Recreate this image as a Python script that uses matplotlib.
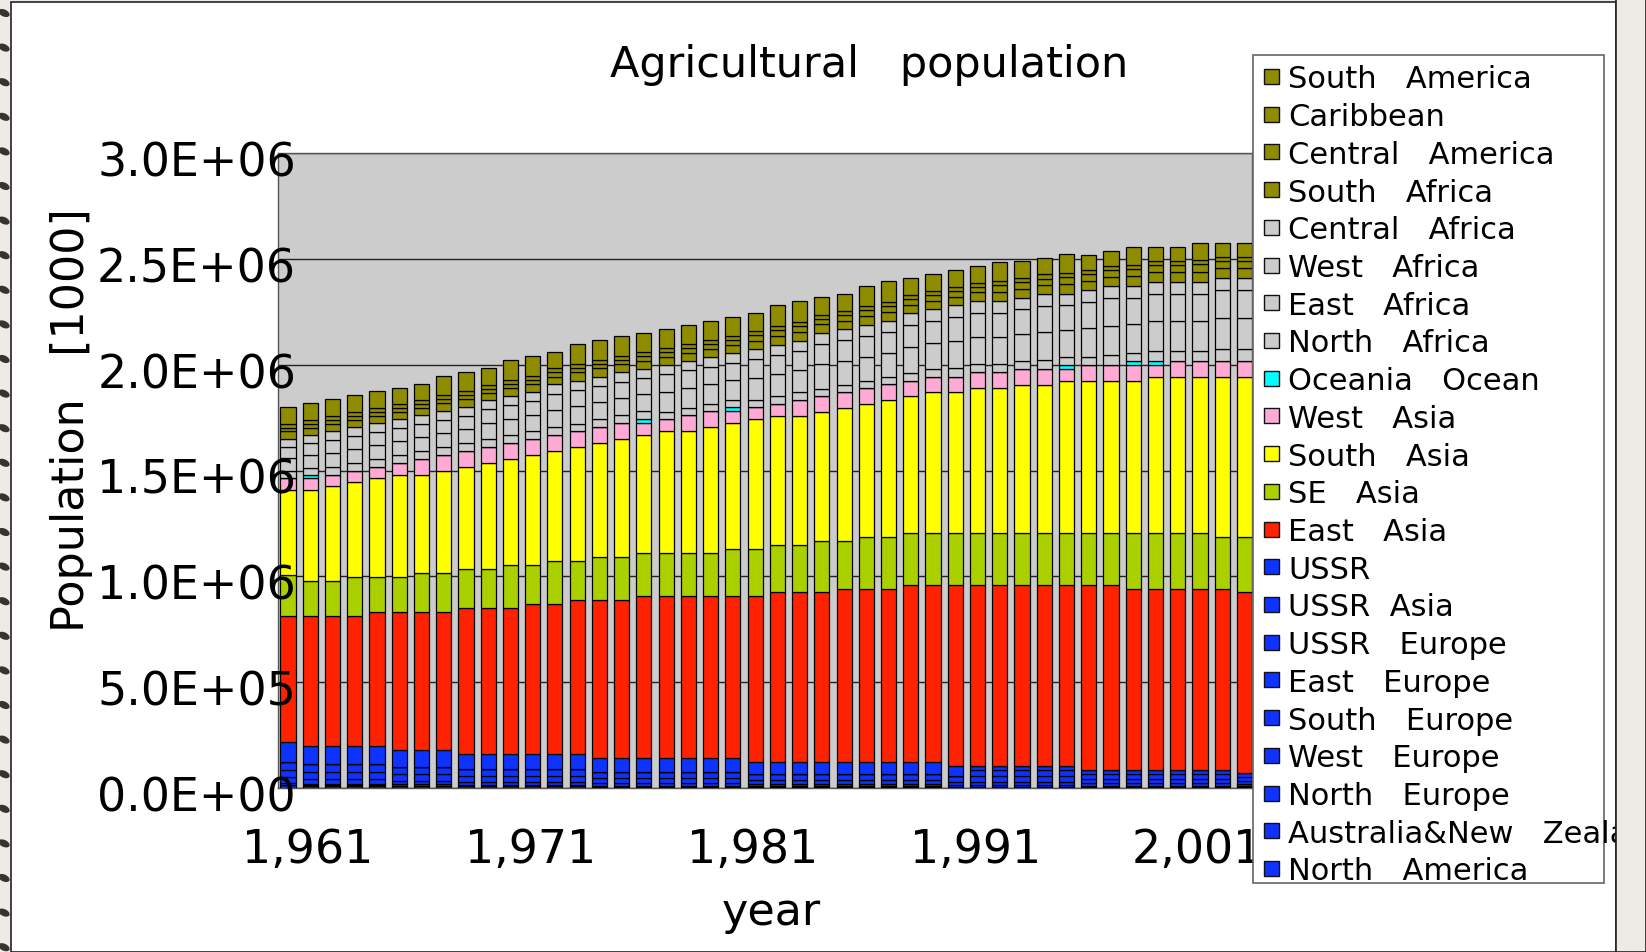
import numpy as np
import matplotlib
matplotlib.use("Agg")
import matplotlib.pyplot as plt
from matplotlib.patches import Rectangle, Ellipse
from matplotlib.transforms import blended_transform_factory, ScaledTranslation, IdentityTransform

# ---------------- data (values in thousands of [1000]) ----------------
years = list(range(1961, 2005))

north_america = [14, 11, 11, 11, 11, 9, 9, 9, 8, 8, 8, 8, 8, 8, 6, 6, 6, 6, 6, 6, 6,
                 4, 4, 4, 4, 4, 4, 4, 4, 4, 3, 3, 3, 3, 3, 3, 2, 2, 2, 2, 2, 2, 2, 1]
aus_nz = [2, 2, 2, 2, 2, 2, 2, 2, 1, 1, 1, 1, 1, 1, 1, 1, 1, 1, 1, 1, 1,
          1, 1, 1, 1, 1, 1, 1, 1, 1, 1, 1, 1, 1, 1, 1, 1, 1, 1, 1, 1, 1, 1, 1]
north_europe = [9, 7, 7, 7, 7, 6, 6, 6, 5, 5, 5, 5, 5, 5, 4, 4, 4, 4, 4, 4, 4,
                3, 3, 3, 3, 3, 3, 3, 3, 3, 2, 2, 2, 2, 2, 2, 1, 1, 1, 1, 1, 1, 1, 1]
west_europe = [25, 21, 21, 21, 21, 18, 18, 18, 15, 15, 15, 15, 15, 15, 12, 12, 12, 12, 12, 12, 12,
               10, 10, 10, 10, 10, 10, 10, 10, 10, 8, 8, 8, 8, 8, 8, 6, 6, 6, 6, 6, 6, 6, 5]
south_europe = [36, 33, 33, 33, 33, 30, 30, 30, 26, 26, 26, 26, 26, 26, 22, 22, 22, 22, 22, 22, 22,
                19, 19, 19, 19, 19, 19, 19, 19, 19, 15, 15, 15, 15, 15, 15, 12, 12, 12, 12, 12, 12, 12, 9]
east_europe = [39, 38, 38, 38, 38, 36, 36, 36, 34, 34, 34, 34, 34, 34, 32, 32, 32, 32, 32, 32, 32,
               30, 30, 30, 30, 30, 30, 30, 30, 30, 27, 27, 27, 27, 27, 27, 22, 22, 22, 22, 22, 22, 22, 17]
ussr_europe = [0, 0, 0, 0, 0, 0, 0, 0, 0, 0, 0, 0, 0, 0, 0, 0, 0, 0, 0, 0, 0,
               0, 0, 0, 0, 0, 0, 0, 0, 0, 0, 29, 29, 29, 29, 29, 24, 24, 24, 24, 24, 24, 24, 19]
ussr_asia = [0, 0, 0, 0, 0, 0, 0, 0, 0, 0, 0, 0, 0, 0, 0, 0, 0, 0, 0, 0, 0,
             0, 0, 0, 0, 0, 0, 0, 0, 0, 0, 21, 21, 21, 21, 21, 19, 19, 19, 19, 19, 19, 19, 16]
ussr = [93, 86, 86, 86, 86, 80, 80, 80, 73, 73, 73, 73, 73, 73, 66, 66, 66, 66, 66, 66, 66,
        58, 58, 58, 58, 58, 58, 58, 58, 58, 50, 0, 0, 0, 0, 0, 0, 0, 0, 0, 0, 0, 0, 0]
east_asia = [594, 614, 614, 614, 632, 649, 649, 649, 687, 687, 687, 706, 706, 724, 743, 743,
             762, 762, 762, 762, 762, 780, 799, 799, 799, 817, 817, 817, 836, 836, 855, 855,
             855, 855, 855, 855, 874, 874, 855, 855, 855, 855, 855, 855]
se_asia = [196, 168, 168, 186, 168, 168, 187, 187, 187, 187, 206, 187, 205, 187, 206, 206,
           206, 206, 206, 206, 224, 224, 224, 224, 243, 225, 243, 243, 243, 243, 243, 243,
           243, 243, 243, 243, 243, 243, 262, 262, 262, 262, 243, 261]
south_asia = [399, 427, 445, 446, 465, 482, 463, 481, 481, 500, 500, 518, 519, 538, 537, 556,
              556, 574, 574, 593, 594, 612, 609, 609, 609, 627, 628, 647, 646, 665, 665, 684,
              684, 701, 701, 720, 720, 720, 720, 739, 739, 739, 758, 758]
west_asia = [57, 58, 55, 54, 54, 56, 75, 75, 75, 75, 74, 75, 75, 74, 75, 75, 56, 56, 75, 75,
             56, 57, 56, 75, 74, 75, 75, 75, 75, 75, 75, 75, 75, 75, 75, 56, 74, 74, 74, 56,
             74, 74, 74, 74]
oceania = [0, 12, 0, 0, 0, 0, 0, 0, 0, 0, 0, 0, 0, 0, 0, 0, 19, 0, 0, 0,
           19, 0, 0, 0, 0, 0, 0, 0, 0, 0, 0, 0, 0, 0, 0, 19, 0, 0, 19, 19,
           0, 0, 0, 0]
north_africa = [36, 36, 37, 37, 37, 37, 37, 37, 37, 37, 37, 37, 37, 37, 37, 37, 37, 37, 37, 37,
                37, 37, 37, 37, 37, 37, 37, 37, 37, 37, 38, 38, 38, 38, 40, 38, 40, 46, 40, 46,
                46, 46, 56, 56]
east_africa = [58, 60, 66, 67, 68, 67, 67, 68, 68, 75, 75, 75, 84, 84, 84, 84, 84, 94, 94, 94,
               94, 103, 104, 104, 114, 113, 113, 113, 121, 121, 128, 128, 128, 128, 135, 128, 135,
               141, 135, 141, 141, 141, 149, 149]
west_africa = [55, 56, 62, 62, 62, 61, 61, 61, 61, 67, 67, 67, 75, 75, 75, 75, 74, 82, 82, 81,
               81, 89, 90, 90, 98, 98, 98, 98, 106, 106, 116, 116, 116, 115, 124, 116, 124, 130,
               124, 130, 130, 130, 130, 130]
central_africa = [38, 38, 40, 40, 40, 40, 40, 40, 40, 42, 42, 42, 44, 44, 44, 44, 44, 46, 46, 46,
                  46, 48, 49, 49, 51, 51, 51, 51, 54, 54, 54, 54, 54, 54, 55, 54, 55, 56, 55, 56,
                  56, 56, 56, 56]
south_africa = [34, 35, 35, 35, 35, 35, 35, 38, 38, 36, 38, 38, 36, 38, 38, 38, 38, 38, 38, 38,
                38, 39, 42, 42, 40, 40, 43, 43, 41, 41, 41, 42, 45, 44, 43, 46, 44, 45, 48, 46,
                46, 50, 48, 48]
central_america = [17, 18, 18, 18, 18, 18, 18, 21, 21, 19, 22, 22, 20, 22, 22, 22, 22, 22, 22, 23,
                   23, 24, 27, 27, 25, 25, 28, 28, 27, 27, 28, 28, 32, 30, 30, 33, 31, 32, 35, 33,
                   33, 37, 36, 36]
caribbean = [19, 19, 19, 19, 19, 19, 19, 19, 19, 19, 19, 19, 19, 19, 19, 19, 19, 19, 19, 19,
             19, 19, 19, 19, 19, 19, 19, 19, 19, 19, 19, 19, 19, 19, 19, 19, 19, 19, 19, 19,
             19, 19, 19, 19]
south_america = [77, 79, 79, 79, 78, 78, 78, 90, 90, 78, 93, 92, 77, 93, 92, 92, 91, 91, 90, 90,
                 90, 88, 99, 99, 84, 84, 97, 97, 81, 81, 81, 79, 91, 82, 76, 88, 74, 72, 84, 69,
                 69, 80, 65, 65]

x_label_years = [1961, 1971, 1981, 1991, 2001]
y_ticks = [0, 500000, 1000000, 1500000, 2000000, 2500000, 3000000]

OLIVE = "#8F8C00"
GRAY = "#CCCCCC"
BLUE = "#0F33FF"
# bottom -> top
series = [
    ("North   America", north_america, BLUE),
    ("Australia&New   Zealand", aus_nz, BLUE),
    ("North   Europe", north_europe, BLUE),
    ("West   Europe", west_europe, BLUE),
    ("South   Europe", south_europe, BLUE),
    ("East   Europe", east_europe, BLUE),
    ("USSR   Europe", ussr_europe, BLUE),
    ("USSR  Asia", ussr_asia, BLUE),
    ("USSR", ussr, BLUE),
    ("East   Asia", east_asia, "#FF2200"),
    ("SE   Asia", se_asia, "#AAD000"),
    ("South   Asia", south_asia, "#FFFF00"),
    ("West   Asia", west_asia, "#FFAAD5"),
    ("Oceania   Ocean", oceania, "#00FFFF"),
    ("North   Africa", north_africa, GRAY),
    ("East   Africa", east_africa, GRAY),
    ("West   Africa", west_africa, GRAY),
    ("Central   Africa", central_africa, GRAY),
    ("South   Africa", south_africa, OLIVE),
    ("Central   America", central_america, OLIVE),
    ("Caribbean", caribbean, OLIVE),
    ("South   America", south_america, OLIVE),
]

W, H = 1646, 953
fig = plt.figure(figsize=(W / 100, H / 100), dpi=100)
fig.patch.set_facecolor("#EEEBE7")


def fx(px):
    return px / W


def fy(py):
    return 1 - py / H


# window background
fig.patches.append(Rectangle((fx(11), 0), fx(1616) - fx(11), fy(3), transform=fig.transFigure,
                             facecolor="white", edgecolor="#222222", linewidth=1.2, zorder=-10))
for k in range(28):
    fig.patches.append(Ellipse((4, H - (14 + 34.6 * k)), 12, 7, angle=-25,
                               transform=IdentityTransform(), facecolor="#35342f",
                               edgecolor="none", zorder=-5))

ax_l, ax_r, ax_t, ax_b = 278, 1252, 154, 789
ax = fig.add_axes([fx(ax_l), fy(ax_b), fx(ax_r) - fx(ax_l), (ax_b - ax_t) / H])
ax.set_facecolor(GRAY)

x = np.array(years)
bottom = np.zeros(len(years))
for name, vals, col in series:
    v = np.array(vals, dtype=float) * 1000
    ax.bar(x, v, bottom=bottom, width=0.68, color=col, edgecolor="black",
           linewidth=0.9, zorder=3)
    bottom += v

ax.set_xlim(1960.55, 2004.34)
ax.set_ylim(0, 3000000)
ax.set_yticks(y_ticks)
ax.yaxis.grid(True, color="#222222", linewidth=1.0, zorder=1)
ax.set_axisbelow(True)
ax.set_xticks([])
ax.tick_params(axis="y", length=0, labelleft=False)
for s in ax.spines.values():
    s.set_color("#555555")
    s.set_linewidth(1.0)

# y tick labels (overlapping the plot edge, as in the original)
ytrans = blended_transform_factory(ax.transAxes, ax.transData) + \
    ScaledTranslation(0, -10 / 100, fig.dpi_scale_trans)
for v in y_ticks:
    ax.text(0.0185, v, f"{v:.1E}", transform=ytrans, ha="right", va="center",
            fontsize=33, color="black", zorder=6, clip_on=False)

# x tick labels
xtrans = blended_transform_factory(ax.transData, ax.transAxes)
for yr in x_label_years:
    ax.text(yr + 0.9, -(851 - ax_b) / (ax_b - ax_t), f"{yr:,}", transform=xtrans,
            ha="center", va="center", fontsize=33, color="black", clip_on=False)

ax.set_xlabel("year", fontsize=32)
ax.xaxis.set_label_coords((771 - ax_l) / (ax_r - ax_l), -(913 - ax_b) / (ax_b - ax_t))
ax.xaxis.label.set_va("center")
ax.set_ylabel("Population   [1000]", fontsize=32)
ax.yaxis.set_label_coords((72 - ax_l) / (ax_r - ax_l), (ax_b - 420) / (ax_b - ax_t))
ax.yaxis.label.set_va("center")

fig.text(fx(869), fy(65), "Agricultural   population", fontsize=31, ha="center", va="center")

# legend (drawn as in the original: fixed box, top entry = top segment)
fig.patches.append(Rectangle((fx(1253), fy(884)), fx(1604) - fx(1253), fy(56) - fy(884),
                             transform=fig.transFigure, facecolor="white",
                             edgecolor="#666666", linewidth=1.2, zorder=5))
rows = np.linspace(80, 872, len(series))
for (name, vals, col), ry in zip(series[::-1], rows):
    fig.patches.append(Rectangle((fx(1264), fy(ry + 5)), fx(15), 15 / H,
                                 transform=fig.transFigure, facecolor=col,
                                 edgecolor="#111111", linewidth=1.0, zorder=6))
    fig.text(fx(1288), fy(ry), name, fontsize=22, ha="left", va="center", zorder=7)

# right window edge (clips overflowing legend text, as in the original)
fig.patches.append(Rectangle((fx(1616), 0), 1 - fx(1616), 1, transform=fig.transFigure,
                             facecolor="#EEEBE7", edgecolor="#222222", linewidth=1.2, zorder=20))

fig.savefig("out.png", dpi=100, facecolor=fig.get_facecolor())
